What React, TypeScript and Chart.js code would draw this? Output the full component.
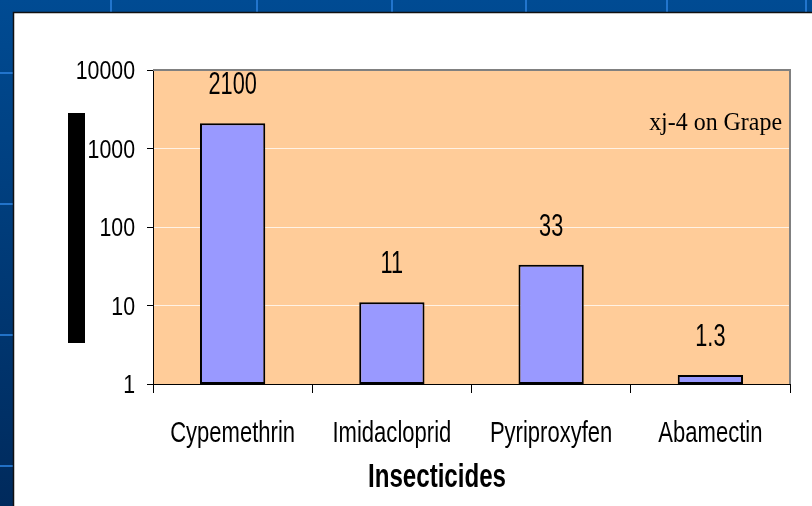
import React, { useEffect, useRef } from 'react';
import { Chart, registerables } from 'chart.js';

Chart.register(...registerables);

const categories = ['Cypemethrin', 'Imidacloprid', 'Pyriproxyfen', 'Abamectin'];
const values = [2100, 11, 33, 1.3];
const valueLabels = ['2100', '11', '33', '1.3'];
const yTicks = [1, 10, 100, 1000, 10000];
const xTitle = 'Insecticides';
const annotation = 'xj-4 on Grape';

const SANS = '"Liberation Sans", Arial, sans-serif';
const SERIF = '"Liberation Serif", "Times New Roman", serif';

function drawText(
  ctx: CanvasRenderingContext2D,
  text: string,
  x: number,
  y: number,
  font: string,
  k: number,
  align: CanvasTextAlign
) {
  ctx.save();
  ctx.translate(x, y);
  ctx.scale(k, 1);
  ctx.font = font;
  ctx.textAlign = align;
  ctx.textBaseline = 'alphabetic';
  ctx.fillStyle = '#000000';
  ctx.fillText(text, 0, 0);
  ctx.restore();
}

const decor = {
  id: 'decor',
  beforeDraw(chart: any) {
    const ctx = chart.ctx as CanvasRenderingContext2D;
    const width = chart.width;
    const height = chart.height;
    ctx.save();
    const g = ctx.createLinearGradient(0, 0, 0, height);
    g.addColorStop(0, '#004B93');
    g.addColorStop(1, '#002A5C');
    ctx.fillStyle = g;
    ctx.fillRect(0, 0, width, height);
    ctx.strokeStyle = 'rgba(40,125,215,0.85)';
    ctx.lineWidth = 2;
    [111, 257, 392, 526, 667, 806].forEach((x) => {
      ctx.beginPath();
      ctx.moveTo(x, 0);
      ctx.lineTo(x, height);
      ctx.stroke();
    });
    [73, 204, 335, 466].forEach((y) => {
      ctx.beginPath();
      ctx.moveTo(0, y);
      ctx.lineTo(width, y);
      ctx.stroke();
    });
    // white panel
    ctx.fillStyle = '#FFFFFF';
    ctx.fillRect(14, 13, width - 14, height - 13);
    ctx.strokeStyle = '#111111';
    ctx.lineWidth = 1.5;
    ctx.beginPath();
    ctx.moveTo(13.5, height);
    ctx.lineTo(13.5, 12.5);
    ctx.lineTo(width, 12.5);
    ctx.stroke();
    // plot background
    const a = chart.chartArea;
    ctx.fillStyle = '#FFCC99';
    ctx.fillRect(a.left, a.top, a.right - a.left, a.bottom - a.top);
    // y-axis title block
    ctx.fillStyle = '#000000';
    ctx.fillRect(68, 113, 17, 230);
    ctx.restore();
  },
  afterDatasetsDraw(chart: any) {
    const ctx = chart.ctx as CanvasRenderingContext2D;
    const a = chart.chartArea;
    ctx.save();
    ctx.strokeStyle = '#808080';
    ctx.lineWidth = 2;
    ctx.beginPath();
    ctx.moveTo(a.left, a.top);
    ctx.lineTo(a.right, a.top);
    ctx.lineTo(a.right, a.bottom);
    ctx.stroke();
    ctx.restore();
    const meta = chart.getDatasetMeta(0);
    meta.data.forEach((bar: any, i: number) => {
      drawText(ctx, valueLabels[i], bar.x, bar.y - 29, `31px ${SANS}`, 0.7, 'center');
    });
  },
  afterDraw(chart: any) {
    const ctx = chart.ctx as CanvasRenderingContext2D;
    const xs = chart.scales.x;
    const ys = chart.scales.y;
    categories.forEach((c, i) => {
      drawText(ctx, c, xs.getPixelForTick(i), 442, `29px ${SANS}`, 0.76, 'center');
    });
    yTicks.forEach((v) => {
      drawText(ctx, String(v), ys.left + ys.width - 18, ys.getPixelForValue(v) + 9, `26px ${SANS}`, 0.82, 'right');
    });
    drawText(ctx, xTitle, 437, 487, `bold 33px ${SANS}`, 0.73, 'center');
    drawText(ctx, annotation, 782, 130, `26px ${SERIF}`, 0.92, 'right');
  },
};

export default function App() {
  const ref = useRef<HTMLCanvasElement | null>(null);
  useEffect(() => {
    if (!ref.current) return;
    const chart = new Chart(ref.current, {
      type: 'bar',
      data: {
        labels: categories,
        datasets: [
          {
            data: values,
            backgroundColor: '#9999FF',
            borderColor: '#000000',
            borderWidth: 2,
            borderSkipped: false,
            categoryPercentage: 1,
            barPercentage: 0.41,
          },
        ],
      },
      options: {
        animation: false,
        responsive: false,
        layout: { padding: { left: 0, right: 22, top: 70, bottom: 0 } },
        plugins: { legend: { display: false }, tooltip: { enabled: false } },
        scales: {
          x: {
            afterFit: (s: any) => {
              s.height = 122;
            },
            grid: { drawOnChartArea: false, offset: true, tickLength: 9, tickColor: '#000000', tickWidth: 1 },
            border: { color: '#000000', width: 1 },
            ticks: { display: false, autoSkip: false },
          },
          y: {
            type: 'logarithmic',
            min: 1,
            max: 10000,
            afterFit: (s: any) => {
              s.width = 153;
            },
            afterBuildTicks: (s: any) => {
              s.ticks = yTicks.map((v) => ({ value: v, major: true }));
            },
            grid: { color: 'rgba(255,255,255,0.75)', tickLength: 6, tickColor: '#000000', lineWidth: 1 },
            border: { color: '#000000', width: 1 },
            ticks: { display: false },
          },
        },
      },
      plugins: [decor],
    });
    return () => chart.destroy();
  }, []);
  return (
    <div style={{ position: 'fixed', left: 0, top: 0, width: 812, height: 506, overflow: 'hidden' }}>
      <canvas ref={ref} width={812} height={506} style={{ display: 'block' }} />
    </div>
  );
}
